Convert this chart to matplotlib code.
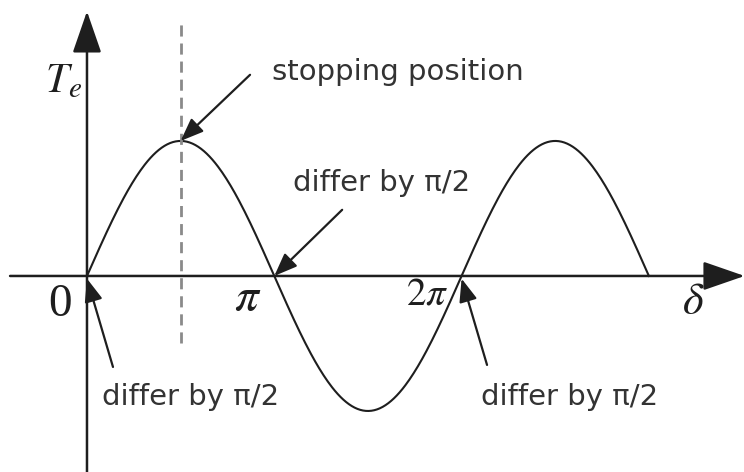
import numpy as np
import matplotlib
matplotlib.use("Agg")
import matplotlib.pyplot as plt

plt.rcParams['mathtext.fontset'] = 'stix'
plt.rcParams['font.family'] = ['DejaVu Sans']

# torque-angle curve T_e = sin(delta), drawn from 0 to 3*pi
amplitude = 1.0
delta_end = 3 * np.pi
stop_angle = np.pi / 2

# axis labels (text, position, size)
tick_labels = ["0", r"$\pi$", r"$2\pi$"]
tick_pos = [(-0.46, -0.21), (2.69, -0.17), (5.70, -0.14)]
tick_size = [34, 34, 28]

# annotations: text, text position, arrow tail, arrow head
notes = ["stopping position", "differ by π/2", "differ by π/2", "differ by π/2"]
note_pos = [(3.10, 1.51), (3.46, 0.69), (0.25, -0.90), (6.61, -0.90)]
arrow_tail = [(2.735, 1.49), (4.28, 0.49), (0.436, -0.674), (6.71, -0.659)]
arrow_head = [(np.pi / 2, 1.0), (np.pi, 0.0), (0.0, -0.02), (2 * np.pi, -0.02)]

fig = plt.figure(figsize=(7.44, 4.72), dpi=100)
ax = fig.add_axes([0, 0, 1, 1])
ax.set_xlim(-1.459, 11.02)
ax.set_ylim(-1.452, 2.044)
ax.axis('off')

ink = '#1e1e1e'

delta = np.linspace(0, delta_end, 400)
ax.plot(delta, amplitude * np.sin(delta), color=ink, lw=1.5)

# axes with big arrowheads
big = dict(arrowstyle='-|>,head_length=26,head_width=9', color=ink, lw=1.8,
           mutation_scale=1, shrinkA=0, shrinkB=0)
ax.annotate('', xy=(11.03, 0), xytext=(-1.29, 0), arrowprops=big,
            annotation_clip=False)
ax.annotate('', xy=(0, 1.96), xytext=(0, -1.46), arrowprops=big,
            annotation_clip=False)

# stopping position marker
ax.plot([stop_angle, stop_angle], [-0.496, 1.896], color='#8a8a8a', lw=2.0,
        dashes=(4, 2.5))

for lab, (tx, ty), fs in zip(tick_labels, tick_pos, tick_size):
    ax.text(tx, ty, lab, fontsize=fs, ha='center', va='center', color=ink,
            family='Liberation Serif')
ax.text(10.17, -0.19, r"$\delta$", fontsize=32, ha='center', va='center', color=ink)
ax.text(-0.40, 1.45, r"$T_e$", fontsize=30, ha='center', va='center', color=ink)

small = dict(arrowstyle='-|>,head_length=14,head_width=5.5', color=ink, lw=1.6,
             mutation_scale=1, shrinkA=0, shrinkB=0)
for txt, (tx, ty), tail, head in zip(notes, note_pos, arrow_tail, arrow_head):
    ax.text(tx, ty, txt, fontsize=21, ha='left', va='center', color='#333333')
    ax.annotate('', xy=head, xytext=tail, arrowprops=small)

fig.savefig('out.png', dpi=100)
